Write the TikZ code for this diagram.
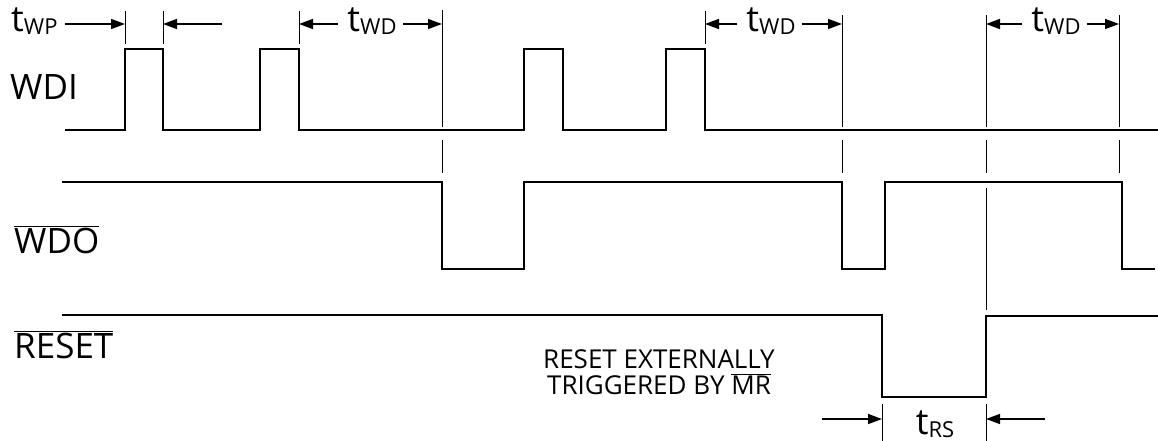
\documentclass[tikz,border=0pt]{standalone}
\usepackage{fontspec}
\setmainfont{Open Sans}
\usetikzlibrary{positioning,arrows.meta,calc}

\newcommand{\tsub}[1]{t{\fontsize{22}{22}\selectfont\raisebox{-3pt}{#1}}}
\newcommand{\ovl}[1]{\ensuremath{\overline{\mbox{#1}}}}

\begin{document}
\begin{tikzpicture}[
  x=1pt,y=-1pt,
  wave/.style={line width=2pt,line join=miter},
  refline/.style={line width=1pt},
  dimarrow/.style={line width=1.5pt,-{Triangle[length=14pt,width=10pt]}},
  siglabel/.style={anchor=base west,font=\fontsize{35}{40}\selectfont,inner sep=0pt},
  tlabel/.style={font=\fontsize{36}{40}\selectfont,inner sep=0pt,fill=white},
  note/.style={font=\fontsize{26}{27}\selectfont,align=center,inner sep=0pt}
]
\useasboundingbox (0,0) rectangle (1158,441);

% Signal names
\node[siglabel] (wdi) at (10,100) {WDI};
\node[siglabel] (wdo) at (14,253) {\ovl{WDO}};
\node[siglabel] (rst) at (14,358) {\ovl{RESET}};

% Waveforms
\draw[wave] (65,130) -- (125,130) -- (125,49) -- (163,49) -- (163,130)
  -- (260,130) -- (260,49) -- (299,49) -- (299,130)
  -- (524,130) -- (524,49) -- (563,49) -- (563,130)
  -- (666,130) -- (666,49) -- (705,49) -- (705,130) -- (1158,130);
\draw[wave] (62,182) -- (442,182) -- (442,269) -- (524,269) -- (524,182)
  -- (842,182) -- (842,269) -- (885,269) -- (885,182)
  -- (1122,182) -- (1122,269) -- (1155,269);
\draw[wave] (62,315) -- (882,315) -- (882,397) -- (986,397) -- (986,316) -- (1158,316);

% Reference lines
\foreach \x in {125,163,299,705}
  \draw[refline] (\x,11) -- (\x,44);
\foreach \x/\t in {442/10,842/15,986/15,1119/15}{
  \draw[refline] (\x,\t) -- (\x,127);
  \draw[refline] (\x,140) -- (\x,173);
}
\draw[refline] (986,188) -- (986,310);
\foreach \x in {882,986}
  \draw[refline] (\x,404) -- (\x,441);

% Timing marks
\coordinate (m1) at (125,24);
\coordinate (m2) at (163,24);
\coordinate (m3) at (299,24);
\coordinate (m4) at (442,24);
\coordinate (m5) at (705,24);
\coordinate (m6) at (842,24);
\coordinate (m7) at (986,24);
\coordinate (m8) at (1119,24);

% tWP
\node[tlabel,anchor=base west] (twp) at (11,32) {\tsub{WP}};
\coordinate (wpend) at (222,24);
\draw[dimarrow] (twp.east |- m1) ++(7,0) -- (m1);
\draw[dimarrow] (wpend) -- (m2);

% tWD
\node[tlabel,anchor=base] (twd1) at (372,32) {\tsub{WD}};
\draw[dimarrow] (twd1.west |- m3) ++(-9,0) -- (m3);
\draw[dimarrow] (twd1.east |- m4) ++(6,0) -- (m4);
\node[tlabel,anchor=base] (twd2) at (771,32) {\tsub{WD}};
\draw[dimarrow] (twd2.west |- m5) ++(-9,0) -- (m5);
\draw[dimarrow] (twd2.east |- m6) ++(6,0) -- (m6);
\node[tlabel,anchor=base] (twd3) at (1056,32) {\tsub{WD}};
\draw[dimarrow] (twd3.west |- m7) ++(-9,0) -- (m7);
\draw[dimarrow] (twd3.east |- m8) ++(6,0) -- (m8);

% tRS
\node[tlabel,anchor=base] (trs) at (935,434) {\tsub{RS}};
\coordinate (rsl) at (822,419);
\coordinate (rsr) at (1045,419);
\draw[dimarrow] (rsl) -- (882,419);
\draw[dimarrow] (rsr) -- (986,419);

% Note
\node[note,anchor=base] (mrnote) at (659,394) {RESET EXTERNALLY\\[-1pt]TRIGGERED BY \ovl{MR}};

\end{tikzpicture}
\end{document}
